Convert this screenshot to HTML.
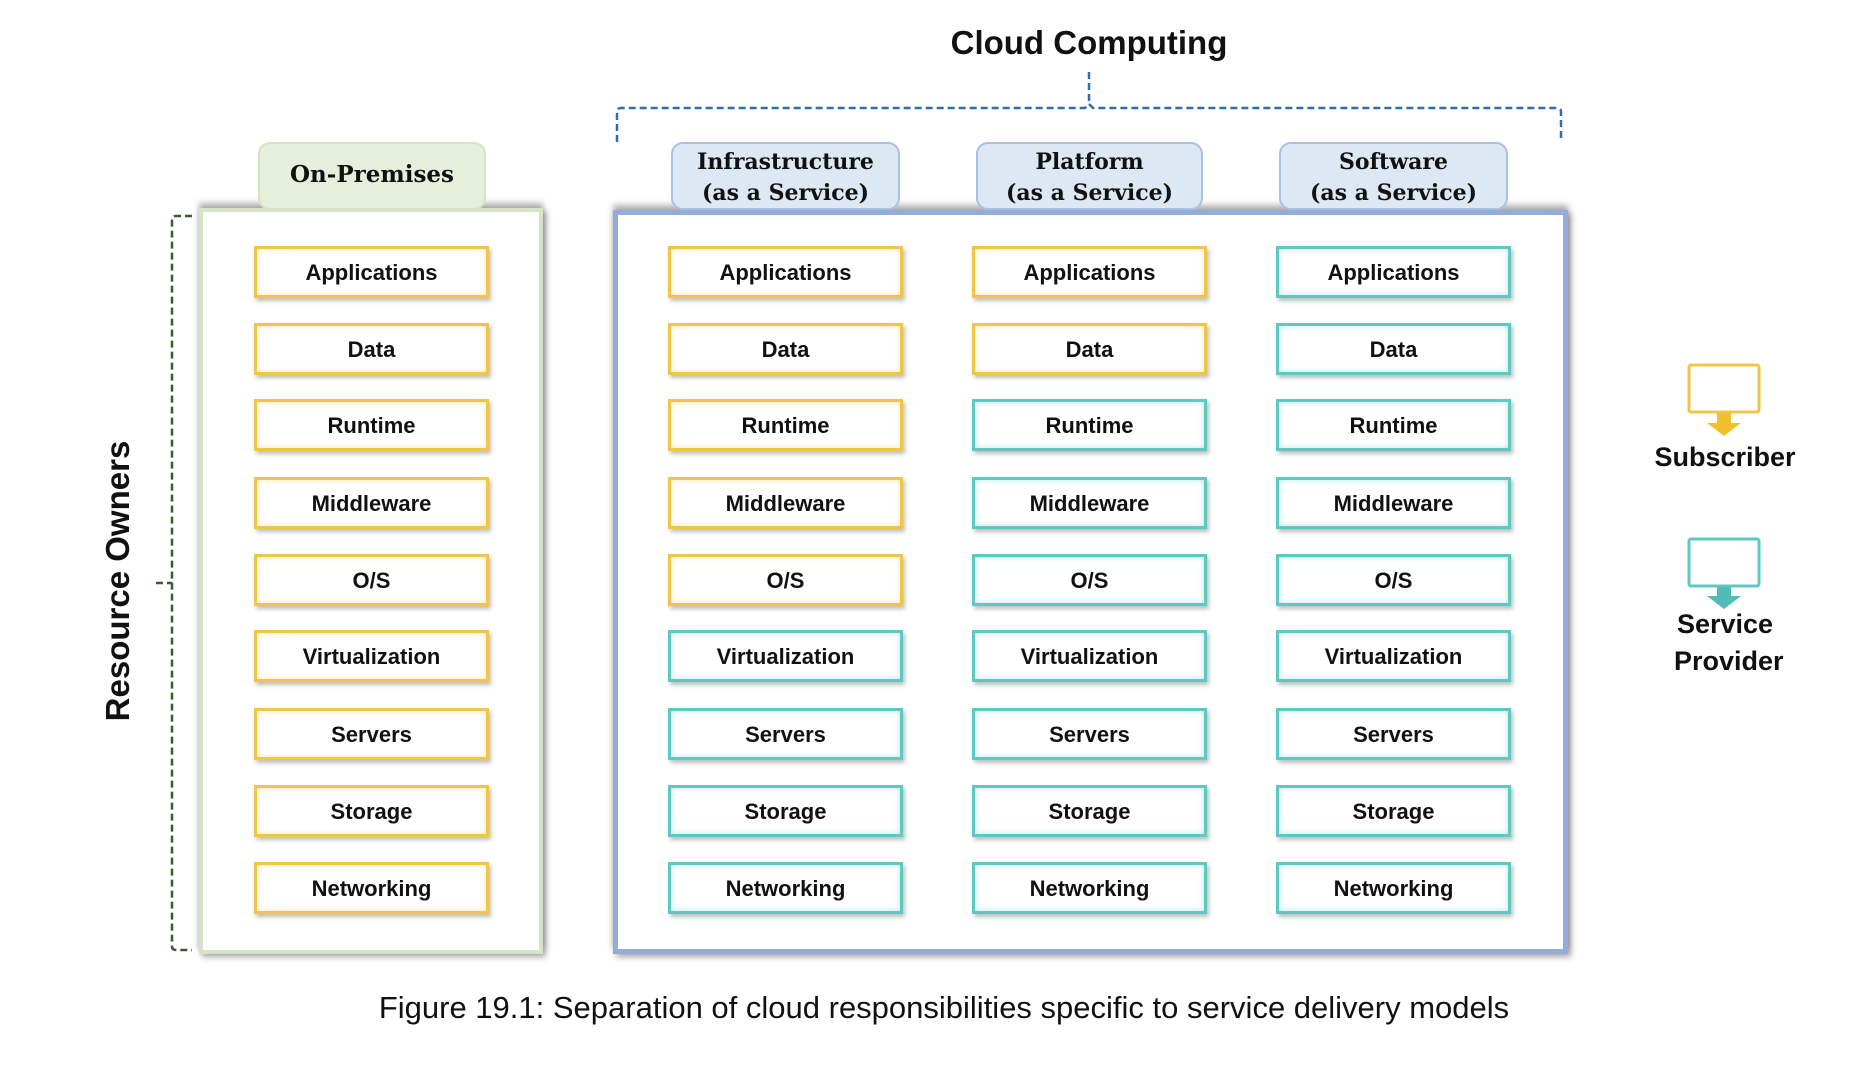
<!DOCTYPE html>
<html><head><meta charset="utf-8"><style>
body{margin:0;width:1874px;height:1066px;background:#fff;position:relative;overflow:hidden;font-family:"Liberation Sans",sans-serif;}
.a{position:absolute}
.tab{position:absolute;border-radius:12px;text-align:center;font-family:"DejaVu Serif","Liberation Serif",serif;font-weight:bold;color:#111;box-sizing:border-box}
.b{position:absolute;width:235px;height:52px;box-sizing:border-box;background:#fff;text-align:center;line-height:48px;font-weight:bold;font-size:22px;color:#111;box-shadow:2px 3px 4px rgba(0,0,0,0.25)}
.y{border:3px solid #f0c64a;box-shadow:inset 0 0 6px rgba(240,198,74,0.45),2px 3px 4px rgba(0,0,0,0.25)}
.t{border:3px solid #5ec9c1;box-shadow:inset 0 0 6px rgba(94,201,193,0.45),2px 3px 4px rgba(0,0,0,0.25)}
</style></head><body>
<div class="a" style="left:0;width:2178px;top:24px;text-align:center;font-size:33px;font-weight:bold;color:#111;">Cloud Computing</div>

<svg class="a" style="left:0;top:0" width="1874" height="1066">
<g fill="none" stroke="#2e6db0" stroke-width="2.5" stroke-dasharray="7,4">
<path d="M617 142 V112 Q617 108 621 108 H1085 L1089 104 L1093 108 H1557 Q1561 108 1561 112 V142"/>
<path d="M1089 72 V104"/>
</g>
<g fill="none" stroke="#3d5a2e" stroke-width="2.5" stroke-dasharray="7,4">
<path d="M192 216 H176 Q172 216 172 220 V946 Q172 950 176 950 H192"/>
<path d="M156 583 H172"/>
</g>
<rect x="1689" y="365" width="70" height="47" fill="#fff" stroke="#f0c64a" stroke-width="3" rx="2"/>
<path d="M1717 413 h14 v10 h10 l-17 13 l-17 -13 h10z" fill="#f0c02c"/>
<rect x="1689" y="539" width="70" height="47" fill="#fff" stroke="#5ec9c1" stroke-width="3" rx="2"/>
<path d="M1717 587 h14 v9 h10 l-17 13 l-17 -13 h10z" fill="#4fbdb5"/>
</svg>

<div class="a" style="left:118px;top:581px;transform:translate(-50%,-50%) rotate(-90deg);white-space:nowrap;font-size:33px;font-weight:bold;color:#111;">Resource Owners</div>

<div class="a" style="left:199px;top:208px;width:344px;height:746px;box-sizing:border-box;border:4px solid #d7e3c6;box-shadow:0 -5px 6px rgba(0,0,0,0.3),3px 3px 6px rgba(0,0,0,0.35);background:#fff"></div>
<div class="tab" style="left:258px;top:142px;width:228px;height:68px;background:#e6eedc;border:2px solid #d5e2c3;font-size:23px;line-height:62px;">On-Premises</div>

<div class="a" style="left:613px;top:210px;width:955px;height:744px;box-sizing:border-box;border:5px solid #93acd8;box-shadow:0 -5px 6px rgba(0,0,0,0.3),3px 3px 6px rgba(0,0,0,0.35);background:#fff"></div>
<div class="tab" style="left:671px;top:142px;width:229px;height:68px;background:#dce8f3;border:2px solid #a9c1e2;font-size:22px;line-height:31px;padding-top:3px">Infrastructure<br>(as a Service)</div>
<div class="tab" style="left:976px;top:142px;width:227px;height:68px;background:#dce8f3;border:2px solid #a9c1e2;font-size:22px;line-height:31px;padding-top:3px">Platform<br>(as a Service)</div>
<div class="tab" style="left:1279px;top:142px;width:229px;height:68px;background:#dce8f3;border:2px solid #a9c1e2;font-size:22px;line-height:31px;padding-top:3px">Software<br>(as a Service)</div>

<div id="grid"></div>

<div class="a" style="left:1625px;top:442px;width:200px;text-align:center;font-size:27px;font-weight:bold;color:#111">Subscriber</div>
<div class="a" style="left:1625px;top:606px;width:200px;text-align:center;font-size:27px;font-weight:bold;color:#111;line-height:37px">Service<br>&nbsp;Provider</div>

<div class="a" style="left:0;width:1888px;top:990px;text-align:center;font-size:31px;color:#111">Figure 19.1: Separation of cloud responsibilities specific to service delivery models</div>

<script>
var labels=["Applications","Data","Runtime","Middleware","O/S","Virtualization","Servers","Storage","Networking"];
var ys=[272,349,425,503,580,656,734,811,888];
var cols=[[371,9],[785,5],[1089,2],[1393,0]];
var h="";
cols.forEach(function(c){labels.forEach(function(l,i){
h+='<div class="b '+(i<c[1]?'y':'t')+'" style="left:'+(c[0]-117)+'px;top:'+(ys[i]-26)+'px">'+l+'</div>';});});
document.getElementById("grid").innerHTML=h;
</script>
</body></html>
